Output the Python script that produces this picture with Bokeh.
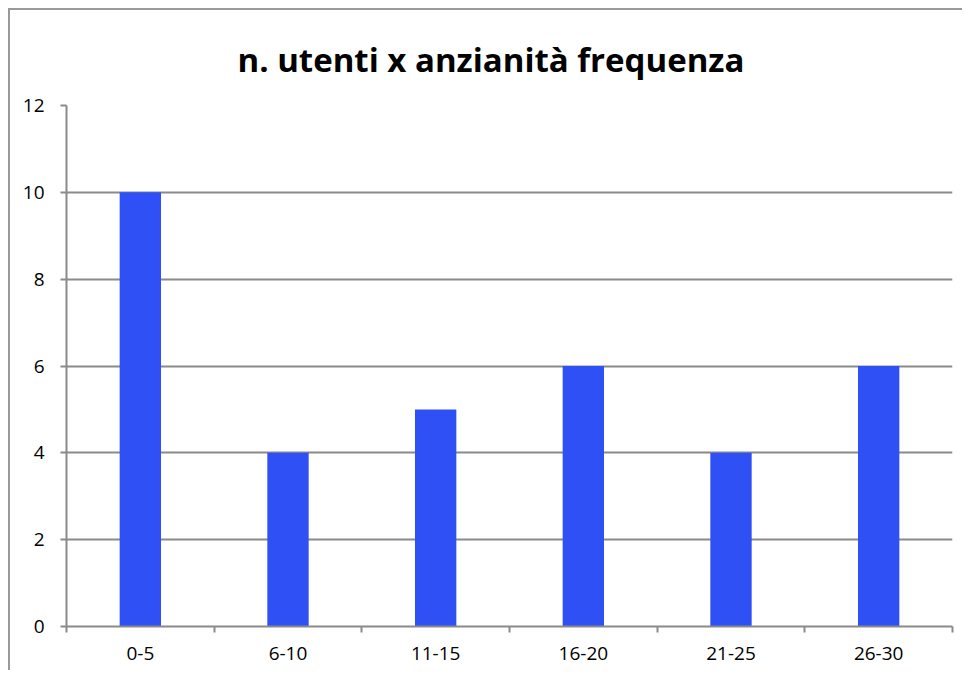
from bokeh.plotting import figure
from bokeh.models import FixedTicker, Range1d, ColumnDataSource
from bokeh.embed import file_html
from bokeh.resources import INLINE

categories = ["0-5", "6-10", "11-15", "16-20", "21-25", "26-30"]
values = [10, 4, 5, 6, 4, 6]
y_ticks = [0, 2, 4, 6, 8, 10, 12]

FONT = "Open Sans"
GRID = "#8a8a8a"

xpos = [i + 0.5 for i in range(len(categories))]
src = ColumnDataSource(dict(x=xpos, top=values, cat=categories))

p = figure(width=954, height=662, output_backend="svg", toolbar_location=None,
           x_range=Range1d(0, len(categories)), y_range=Range1d(0, 12),
           title="n. utenti x anzianità frequenza")
p.styles = {"border-left": "2px solid #9a9a9a", "border-top": "2px solid #9a9a9a",
            "margin-left": "8px", "margin-top": "8px"}
p.min_border_left = 56
p.min_border_right = 12
p.min_border_top = 94
p.min_border_bottom = 46
p.outline_line_color = None
p.background_fill_color = "white"
p.border_fill_color = "white"

p.title.text_font = FONT
p.title.text_font_size = "33px"
p.title.text_font_style = "bold"
p.title.text_color = "black"
p.title.align = "left"
p.title.offset = 171
p.title.standoff = 48

p.vbar(x="x", top="top", width=0.28, bottom=0, source=src,
       fill_color="#2E50F5", line_color=None)

# x axis
xa = p.xaxis[0]
xa.ticker = FixedTicker(ticks=xpos, minor_ticks=list(range(len(categories) + 1)))
xa.major_label_overrides = {x: c for x, c in zip(xpos, categories)}
xa.major_tick_out = 0
xa.major_tick_in = 0
xa.minor_tick_out = 6
xa.minor_tick_in = 0
xa.minor_tick_line_color = GRID
xa.axis_line_color = GRID
xa.axis_line_width = 2
xa.minor_tick_line_width = 2
xa.major_label_text_font = FONT
xa.major_label_text_font_size = "19px"
xa.major_label_text_color = "black"
xa.major_label_standoff = 14

# y axis
ya = p.yaxis[0]
ya.ticker = FixedTicker(ticks=y_ticks, minor_ticks=[])
ya.major_tick_out = 6
ya.major_tick_in = 0
ya.major_tick_line_color = GRID
ya.major_tick_line_width = 2
ya.axis_line_color = GRID
ya.axis_line_width = 2
ya.major_label_text_font = FONT
ya.major_label_text_font_size = "19px"
ya.major_label_text_color = "black"
ya.major_label_standoff = 16

p.xgrid.grid_line_color = None
p.ygrid.ticker = FixedTicker(ticks=y_ticks)
p.ygrid.grid_line_color = GRID
p.ygrid.grid_line_width = 2

open("out.html", "w").write(file_html(p, INLINE))
